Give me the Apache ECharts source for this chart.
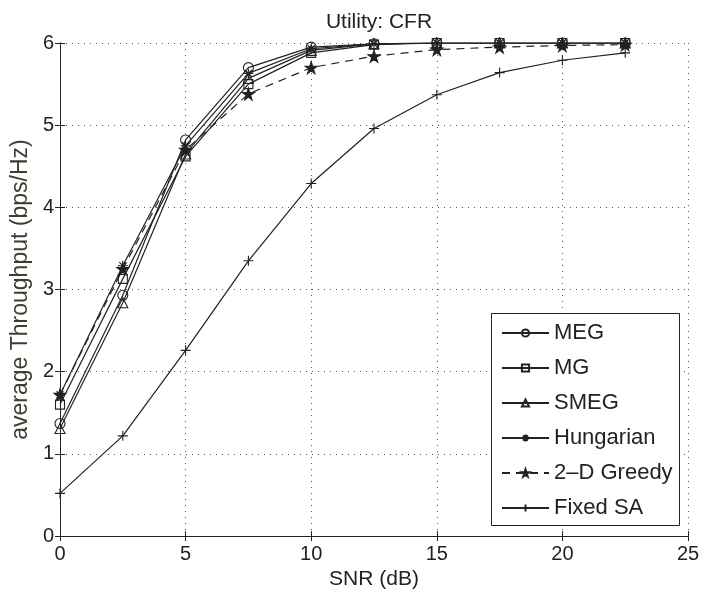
<!DOCTYPE html>
<html>
<head>
<meta charset="utf-8">
<script src="https://cdn.jsdelivr.net/npm/echarts@6/dist/echarts.min.js"></script>
<style>html,body{margin:0;padding:0;background:#fff;}#c{width:706px;height:595px;}</style>
</head>
<body>
<div id="c"></div>
<script>
const snr = [0, 2.5, 5, 7.5, 10, 12.5, 15, 17.5, 20, 22.5];
const megVals = [1.37, 2.93, 4.82, 5.70, 5.95, 5.99, 6.0, 6.0, 6.0, 6.0];
const mgVals = [1.60, 3.13, 4.62, 5.50, 5.88, 5.98, 6.0, 6.0, 6.0, 6.0];
const smegVals = [1.31, 2.84, 4.65, 5.57, 5.91, 5.99, 6.0, 6.0, 6.0, 6.0];
const hungarianVals = [1.72, 3.29, 4.75, 5.63, 5.93, 5.99, 6.0, 6.0, 6.0, 6.0];
const greedyVals = [1.72, 3.25, 4.70, 5.38, 5.70, 5.84, 5.92, 5.95, 5.97, 5.98];
const fixedVals = [0.52, 1.22, 2.26, 3.35, 4.29, 4.96, 5.37, 5.64, 5.79, 5.88];
const seriesNames = ['MEG', 'MG', 'SMEG', 'Hungarian', '2\u2013D Greedy', 'Fixed SA'];

const ink = '#222';
const FONT = '"Liberation Sans", Arial, Helvetica, sans-serif';
const plusPath = 'path://M0,-1L0,1M-1,0L1,0';
const astPath = 'path://M0,-1L0,1M-1,0L1,0M-0.7,-0.7L0.7,0.7M-0.7,0.7L0.7,-0.7';
const starPath = 'path://M0,-1L0.2245,-0.309L0.951,-0.309L0.363,0.118L0.588,0.809L0,0.382L-0.588,0.809L-0.363,0.118L-0.951,-0.309L-0.2245,-0.309Z';

function pairs(vals) { return snr.map((x, i) => [x, vals[i]]); }

function mk(name, vals, symbol, size, filled, dashed) {
  return {
    name: name, type: 'line', data: pairs(vals),
    symbol: symbol, symbolSize: size, showSymbol: true,
    color: ink,
    lineStyle: { color: ink, width: 1.2, type: dashed ? [8, 6] : 'solid' },
    itemStyle: { color: filled ? ink : 'rgba(0,0,0,0)', borderColor: ink, borderWidth: 1.1 },
    emphasis: { disabled: true },
    z: 2,
    animation: false
  };
}

const chart = echarts.init(document.getElementById('c'), null, { renderer: 'canvas' });
const axisCommon = {
  type: 'value',
  axisLine: { show: true, lineStyle: { color: ink, width: 1 } },
  axisTick: { show: true, inside: true, length: 5, lineStyle: { color: ink } },
  axisLabel: { color: ink, fontSize: 20, fontFamily: FONT }
};
const gridLine = { show: true, lineStyle: { color: '#555', type: [1, 5], width: 1 } };
chart.setOption({
  backgroundColor: '#fff',
  animation: false,
  textStyle: { fontFamily: FONT },
  title: {
    text: 'Utility: CFR', left: 374, top: 7, textAlign: 'center',
    textStyle: { fontSize: 21, fontWeight: 'normal', color: ink, fontFamily: FONT }
  },
  grid: { left: 60, right: 18, top: 43, bottom: 56 },
  graphic: [{
    type: 'rect', z: 3, silent: true,
    shape: { x: 491.5, y: 313.5, width: 188, height: 212 },
    style: { fill: '#fff', stroke: ink, lineWidth: 1 }
  }],
  legend: {
    orient: 'vertical', left: 501, top: 322, z: 4,
    padding: 0, itemWidth: 47, itemHeight: 9, itemGap: 13,
    textStyle: { fontSize: 22, lineHeight: 22, color: ink, fontFamily: FONT },
    data: seriesNames
  },
  xAxis: [
    Object.assign({}, axisCommon, {
      min: 0, max: 25, interval: 5, position: 'bottom',
      name: 'SNR (dB)', nameLocation: 'middle', nameGap: 30,
      nameTextStyle: { fontSize: 21, color: ink, fontFamily: FONT },
      axisLabel: { color: ink, fontSize: 20, fontFamily: FONT, margin: 8 },
      splitLine: gridLine
    }),
    Object.assign({}, axisCommon, {
      min: 0, max: 25, interval: 5, position: 'top',
      axisLabel: { show: false }, splitLine: { show: false }
    })
  ],
  yAxis: [
    Object.assign({}, axisCommon, {
      min: 0, max: 6, interval: 1, position: 'left',
      name: 'average Throughput (bps/Hz)', nameLocation: 'middle', nameGap: 24,
      nameTextStyle: { fontSize: 23, color: '#3d3d30', fontFamily: FONT },
      axisLabel: { color: ink, fontSize: 20, fontFamily: FONT, margin: 6 },
      splitLine: gridLine
    }),
    Object.assign({}, axisCommon, {
      min: 0, max: 6, interval: 1, position: 'right',
      axisLabel: { show: false }, splitLine: { show: false }
    })
  ],
  series: [
    mk(seriesNames[5], fixedVals, plusPath, 10, false, false),
    mk(seriesNames[4], greedyVals, starPath, 12, true, true),
    mk(seriesNames[3], hungarianVals, astPath, 10, false, false),
    mk(seriesNames[2], smegVals, 'triangle', 10, false, false),
    mk(seriesNames[1], mgVals, 'rect', 9, false, false),
    mk(seriesNames[0], megVals, 'circle', 10, false, false)
  ]
});
</script>
</body>
</html>
